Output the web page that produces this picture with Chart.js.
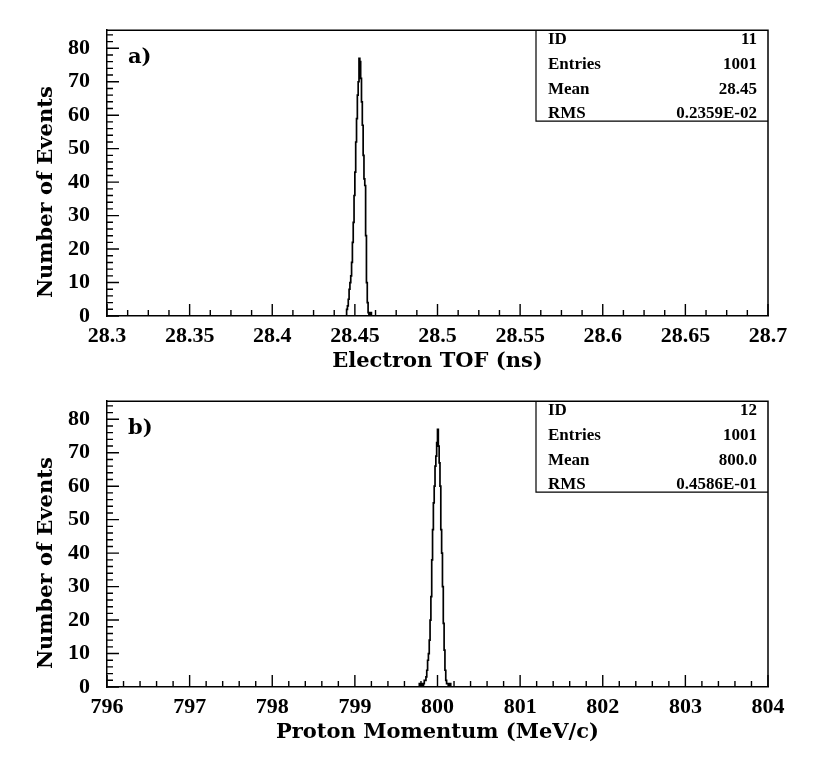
<!DOCTYPE html>
<html>
<head>
<meta charset="utf-8">
<script src="https://cdn.jsdelivr.net/npm/chart.js@4.4.0/dist/chart.umd.min.js"></script>
<style>
  body { margin: 0; background: #fff; }
  .wrap { position: relative; width: 830px; height: 771px; }
  canvas { position: absolute; left: 0; }
</style>
</head>
<body>
<div class="wrap">
  <canvas id="tofChart" width="830" height="385" style="top:0px"></canvas>
  <canvas id="momChart" width="830" height="385" style="top:371px"></canvas>
</div>
<script>
// panel a) electron time of flight, bins of 0.0005 ns starting at tofStart
const tofStart = 28.445
const tofWidth = 0.0005
const tofCounts = [2, 3, 5, 8, 10, 12, 16, 22, 28, 36, 43, 52, 59, 66, 70, 77, 76, 71, 64, 57, 48, 41, 39, 24, 10, 4, 1, 0, 1, 1]
const tofTicks = [28.3, 28.35, 28.4, 28.45, 28.5, 28.55, 28.6, 28.65, 28.7]
const tofStats = ['11', '1001', '28.45', '0.2359E-02']

// panel b) proton momentum, bins of 0.01 MeV/c starting at momStart
const momStart = 799.78
const momWidth = 0.01
const momCounts = [1, 0, 0, 1, 0, 1, 2, 2, 3, 5, 8, 10, 14, 20, 27, 38, 47, 55, 60, 66, 69, 73, 77, 72, 67, 60, 47, 40, 30, 19, 11, 5, 2, 1, 1, 0, 1, 1]
const momTicks = [796, 797, 798, 799, 800, 801, 802, 803, 804]
const momStats = ['12', '1001', '800.0', '0.4586E-01']

const countTicks = [0, 10, 20, 30, 40, 50, 60, 70, 80]
const statNames = ['ID', 'Entries', 'Mean', 'RMS']

const tickFont = { family: '"Liberation Serif", "Times New Roman", serif', weight: 'bold', size: 22 }
const titleFont = { family: '"DejaVu Serif", serif', weight: 'bold', size: 21 }

const histPoints = (start, width, counts, lo, hi) => {
  const pts = [{ x: lo, y: 0 }]
  counts.forEach((c, i) => pts.push({ x: start + i * width, y: c }))
  pts.push({ x: start + counts.length * width, y: 0 })
  pts.push({ x: hi, y: 0 })
  return pts
}

const minorValues = (majors, sub, max) => {
  const out = []
  const step = (majors[1] - majors[0]) / sub
  for (let i = 0; i < majors.length - 1; i++) {
    for (let j = 1; j < sub; j++) out.push(majors[i] + j * step)
  }
  let v = majors[majors.length - 1] + step
  while (v < max) { out.push(v); v += step }
  return out
}

// frame, inward ticks, stats box, panel tag and y title
const panelDecor = {
  id: 'panelDecor',
  afterDraw(chart, args, opts) {
    const { ctx, chartArea: a, scales: { x, y } } = chart
    ctx.save()
    ctx.strokeStyle = '#000'
    ctx.lineWidth = 1.5
    ctx.beginPath()
    ctx.moveTo(a.left, a.top)
    ctx.lineTo(a.right, a.top)
    ctx.lineTo(a.right, a.bottom)
    ctx.stroke()

    ctx.lineWidth = 1.4
    ctx.beginPath()
    opts.xMajor.forEach(v => { const px = x.getPixelForValue(v); ctx.moveTo(px, a.bottom); ctx.lineTo(px, a.bottom - 12) })
    minorValues(opts.xMajor, opts.xSub, x.max).forEach(v => { const px = x.getPixelForValue(v); ctx.moveTo(px, a.bottom); ctx.lineTo(px, a.bottom - 6) })
    countTicks.forEach(v => { const py = y.getPixelForValue(v); ctx.moveTo(a.left, py); ctx.lineTo(a.left + 12, py) })
    minorValues(countTicks, 5, y.max).forEach(v => { const py = y.getPixelForValue(v); ctx.moveTo(a.left, py); ctx.lineTo(a.left + 6, py) })
    ctx.stroke()

    // stats box
    const boxL = a.left + 429
    const boxB = a.top + 91
    ctx.lineWidth = 1.2
    ctx.beginPath()
    ctx.moveTo(boxL, a.top)
    ctx.lineTo(boxL, boxB)
    ctx.lineTo(a.right, boxB)
    ctx.stroke()
    ctx.fillStyle = '#000'
    ctx.font = 'bold 17px "Liberation Serif", serif'
    ctx.textBaseline = 'alphabetic'
    const rows = [13.5, 39, 63.5, 87.5]
    statNames.forEach((name, i) => {
      ctx.textAlign = 'left'
      ctx.fillText(name, a.left + 441, a.top + rows[i])
      ctx.textAlign = 'right'
      ctx.fillText(opts.stats[i], a.left + 650, a.top + rows[i])
    })

    ctx.font = 'bold 21px "DejaVu Serif", serif'
    ctx.textAlign = 'left'
    ctx.fillText(opts.tag, a.left + 21, a.top + 33)

    ctx.font = 'bold 21px "DejaVu Serif", serif'
    ctx.translate(47, a.top + 162)
    ctx.rotate(-Math.PI / 2)
    ctx.textAlign = 'center'
    ctx.textBaseline = 'middle'
    ctx.fillText('Number of Events', 0, 0)
    ctx.restore()
  }
}

const makeChart = (id, points, xMin, xMax, xMajor, xSub, xTitle, stats, tag) => new Chart(document.getElementById(id), {
  type: 'line',
  data: {
    datasets: [{
      data: points,
      stepped: true,
      borderColor: '#000',
      borderWidth: 1.7,
      pointRadius: 0,
      fill: false
    }]
  },
  options: {
    animation: false,
    responsive: false,
    layout: { padding: { left: 0, top: 27, right: 62, bottom: 0 } },
    plugins: {
      legend: { display: false },
      tooltip: { enabled: false },
      panelDecor: { xMajor, xSub, stats, tag }
    },
    scales: {
      x: {
        type: 'linear',
        min: xMin,
        max: xMax,
        afterBuildTicks: s => { s.ticks = xMajor.map(v => ({ value: v })) },
        afterFit: s => { s.height = 69 },
        grid: { display: false, drawTicks: false },
        border: { display: true, color: '#000', width: 1.5 },
        ticks: { font: tickFont, color: '#000', padding: 7, maxRotation: 0, autoSkip: false, callback: v => String(v) },
        title: { display: true, text: xTitle, font: titleFont, color: '#000', padding: { top: 0, bottom: 11 } }
      },
      y: {
        min: 0,
        max: 85.4,
        afterBuildTicks: s => { s.ticks = countTicks.map(v => ({ value: v })) },
        afterFit: s => { s.width = 107 },
        grid: { display: false, drawTicks: false },
        border: { display: true, color: '#000', width: 1.5 },
        ticks: { font: tickFont, color: '#000', padding: 17, autoSkip: false, callback: v => String(v) }
      }
    }
  },
  plugins: [panelDecor]
})

makeChart('tofChart', histPoints(tofStart, tofWidth, tofCounts, 28.3, 28.7), 28.3, 28.7, tofTicks, 4, 'Electron TOF (ns)', tofStats, 'a)')
makeChart('momChart', histPoints(momStart, momWidth, momCounts, 796, 804), 796, 804, momTicks, 5, 'Proton Momentum (MeV/c)', momStats, 'b)')
</script>
</body>
</html>
